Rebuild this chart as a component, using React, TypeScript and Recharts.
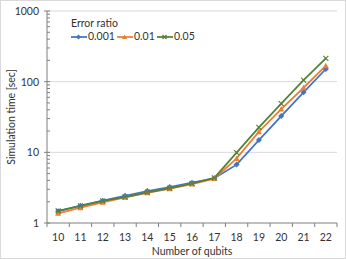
import { LineChart, Line, XAxis, YAxis, ReferenceLine, Label } from 'recharts';

const qubits = [10, 11, 12, 13, 14, 15, 16, 17, 18, 19, 20, 21, 22];
const ratio0001 = [1.47, 1.76, 2.07, 2.43, 2.83, 3.22, 3.72, 4.3, 6.7, 14.9, 32.6, 70.6, 151];
const ratio001 = [1.37, 1.65, 1.96, 2.31, 2.67, 3.06, 3.55, 4.25, 8.2, 19.6, 41, 82, 168];
const ratio005 = [1.48, 1.74, 2.05, 2.33, 2.72, 3.1, 3.62, 4.35, 9.9, 22.6, 49, 105, 214];

const decades = [1, 10, 100, 1000];
const yTicks = [
  1, 2, 3, 4, 5, 6, 7, 8, 9,
  10, 20, 30, 40, 50, 60, 70, 80, 90,
  100, 200, 300, 400, 500, 600, 700, 800, 900,
  1000,
];

const BLUE = '#4472c4';
const ORANGE = '#ed7d31';
const GREEN = '#548235';
const AXIS = '#7f7f7f';
const TEXT = '#333333';
const FONT = 'Lato, "Open Sans", sans-serif';

const data = qubits.map((q, i) => ({
  q,
  a: ratio0001[i],
  b: ratio001[i],
  c: ratio005[i],
}));

const W = 346;
const H = 259;
const margin = { top: 11, right: 9, bottom: 0, left: 0 };
const Y_W = 47;
const X_H = 36;
const plotW = W - margin.left - margin.right - Y_W;
const band = plotW / qubits.length;

function diamond(color: string) {
  return (p: any) => {
    const { cx, cy, key } = p;
    if (cx == null || cy == null) return <g key={key} />;
    return (
      <path
        key={key}
        d={`M${cx},${cy - 3}L${cx + 3},${cy}L${cx},${cy + 3}L${cx - 3},${cy}Z`}
        fill={color}
      />
    );
  };
}

function triangle(color: string) {
  return (p: any) => {
    const { cx, cy, key } = p;
    if (cx == null || cy == null) return <g key={key} />;
    return (
      <path
        key={key}
        d={`M${cx},${cy - 3}L${cx + 3},${cy + 2.5}L${cx - 3},${cy + 2.5}Z`}
        fill={color}
      />
    );
  };
}

function cross(color: string) {
  return (p: any) => {
    const { cx, cy, key } = p;
    if (cx == null || cy == null) return <g key={key} />;
    return (
      <path
        key={key}
        d={`M${cx - 2.5},${cy - 2.5}L${cx + 2.5},${cy + 2.5}M${cx + 2.5},${cy - 2.5}L${cx - 2.5},${cy + 2.5}`}
        stroke={color}
        strokeWidth={1.2}
        fill="none"
      />
    );
  };
}

function YTick(props: any) {
  const { x, y, payload } = props;
  const major = decades.includes(payload.value);
  return (
    <g>
      <line x1={major ? x - 3 : x} x2={x + 3} y1={y} y2={y} stroke={AXIS} strokeWidth={1} />
      {major && (
        <text x={x - 8} y={y} textAnchor="end" dominantBaseline="central" fontSize={10.5} fill={TEXT} fontFamily={FONT}>
          {payload.value}
        </text>
      )}
    </g>
  );
}

function XTick(props: any) {
  const { x, y, payload, index } = props;
  return (
    <g>
      <line x1={x - band / 2} x2={x - band / 2} y1={y} y2={y + 4} stroke={AXIS} />
      {index === qubits.length - 1 && (
        <line x1={x + band / 2} x2={x + band / 2} y1={y} y2={y + 4} stroke={AXIS} />
      )}
      <text x={x} y={y + 14} textAnchor="middle" dominantBaseline="central" fontSize={10.5} fill={TEXT} fontFamily={FONT}>
        {payload.value}
      </text>
    </g>
  );
}

function LegendItem({ color, label, kind, width }: { color: string; label: string; kind: string; width: number }) {
  const m = 7.5;
  return (
    <span style={{ display: 'inline-flex', alignItems: 'center', width }}>
      <svg width={16} height={8} style={{ marginRight: 1 }}>
        <line x1={0} x2={16} y1={4} y2={4} stroke={color} strokeWidth={1.75} />
        {kind === 'd' && <path d={`M${m},1.5L${m + 2.5},4L${m},6.5L${m - 2.5},4Z`} fill={color} />}
        {kind === 't' && <path d={`M${m},1.5L${m + 2.5},6L${m - 2.5},6Z`} fill={color} />}
        {kind === 'x' && (
          <path d={`M${m - 2},2L${m + 2},6M${m + 2},2L${m - 2},6`} stroke={color} strokeWidth={1.2} />
        )}
      </svg>
      <span>{label}</span>
    </span>
  );
}

export default function App() {
  return (
    <div
      style={{
        position: 'absolute',
        left: 0,
        top: 0,
        width: W,
        height: H,
        boxSizing: 'border-box',
        border: '1px solid #d9d9d9',
        background: '#fff',
        fontFamily: FONT,
      }}
    >
      <div style={{ position: 'absolute', left: -1, top: -1 }}>
        <LineChart width={W} height={H} data={data} margin={margin}>
          <XAxis
            dataKey="q"
            type="category"
            scale="band"
            height={X_H}
            stroke={AXIS}
            tickLine={false}
            tickSize={0}
            tickMargin={0}
            interval={0}
            tick={<XTick />}
          >
            <Label
              value="Number of qubits"
              position="insideBottom"
              offset={4}
              style={{ fontSize: 10.5, fill: TEXT, fontFamily: FONT }}
            />
          </XAxis>
          <YAxis
            scale="log"
            domain={[1, 1000]}
            ticks={yTicks}
            interval={0}
            width={Y_W}
            stroke={AXIS}
            tickLine={false}
            tickSize={0}
            tickMargin={0}
            tick={<YTick />}
            allowDataOverflow
          >
            <Label
              value="Simulation time [sec]"
              angle={-90}
              position="insideLeft"
              offset={11}
              style={{ fontSize: 10.5, fill: TEXT, fontFamily: FONT, textAnchor: 'middle' }}
            />
          </YAxis>
          {decades.slice(1).map((d) => (
            <ReferenceLine key={d} y={d} stroke="#d9d9d9" strokeWidth={1} />
          ))}
          <Line dataKey="a" stroke={BLUE} strokeWidth={1.75} dot={diamond(BLUE)} isAnimationActive={false} />
          <Line dataKey="b" stroke={ORANGE} strokeWidth={1.75} dot={triangle(ORANGE)} isAnimationActive={false} />
          <Line dataKey="c" stroke={GREEN} strokeWidth={1.75} dot={cross(GREEN)} isAnimationActive={false} />
        </LineChart>
      </div>
      <div
        style={{
          position: 'absolute',
          left: 70,
          top: 16,
          fontSize: 10.5,
          color: TEXT,
          lineHeight: '13px',
        }}
      >
        <div>Error ratio</div>
        <div style={{ display: 'flex' }}>
          <LegendItem color={BLUE} label="0.001" kind="d" width={46} />
          <LegendItem color={ORANGE} label="0.01" kind="t" width={40} />
          <LegendItem color={GREEN} label="0.05" kind="x" width={40} />
        </div>
      </div>
    </div>
  );
}
